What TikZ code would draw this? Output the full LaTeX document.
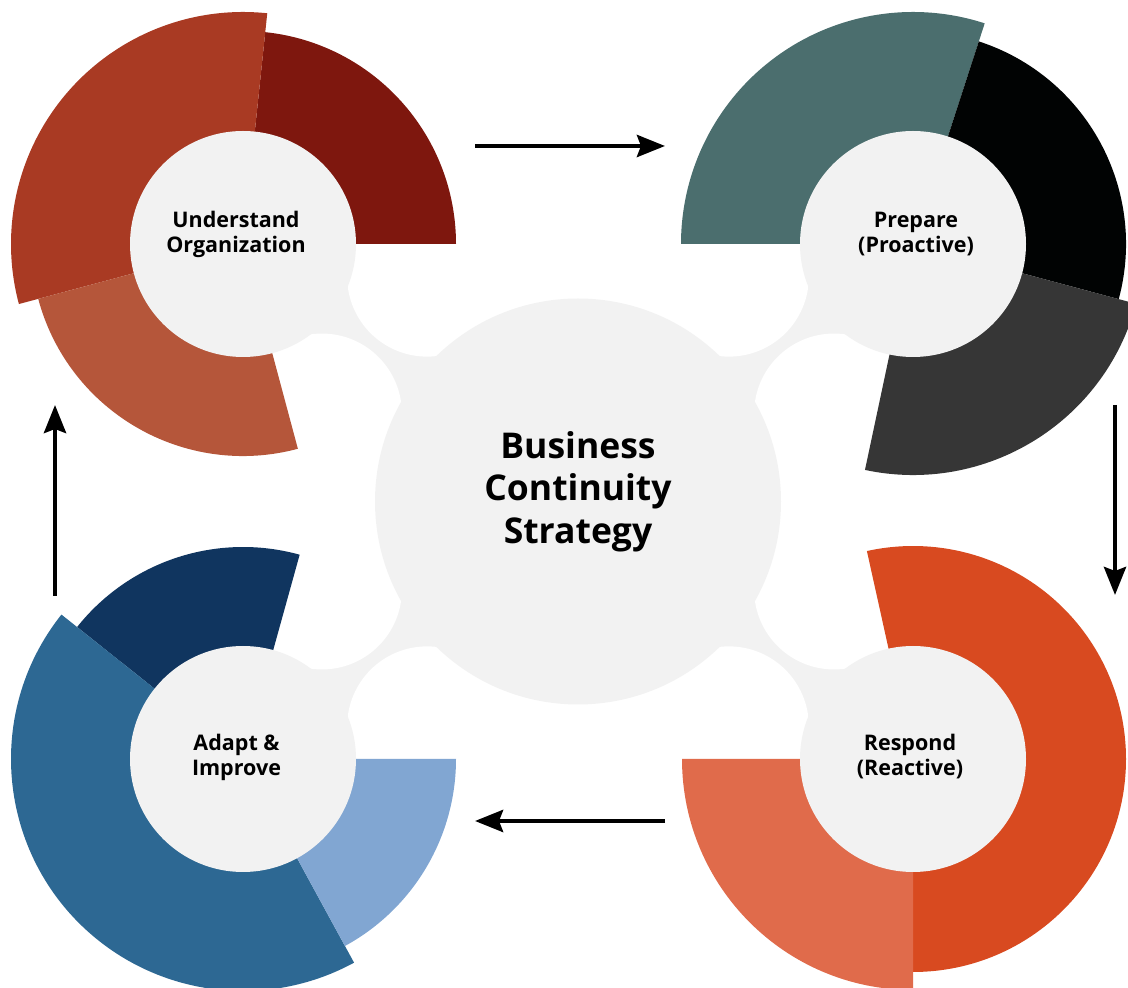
\documentclass[tikz,border=0pt]{standalone}
\usepackage{fontspec}
\setmainfont{Open Sans}
\usetikzlibrary{arrows.meta,calc}

\definecolor{hubgrey}{HTML}{F2F2F2}
\definecolor{rustdark}{HTML}{7E170E}
\definecolor{rust}{HTML}{A93A23}
\definecolor{rustlight}{HTML}{B5563A}
\definecolor{slate}{HTML}{4B6E6E}
\definecolor{ink}{HTML}{010303}
\definecolor{charcoal}{HTML}{363636}
\definecolor{flame}{HTML}{D84A20}
\definecolor{flamelight}{HTML}{E06B4B}
\definecolor{navy}{HTML}{10355F}
\definecolor{steel}{HTML}{2D6893}
\definecolor{sky}{HTML}{81A6D2}

% centre, colour, from, to, radius
\newcommand{\ringslice}[5]{%
  \fill[#2] (#1) -- ++(#3:#5pt) arc[start angle=#3, end angle=#4, radius=#5pt] -- cycle;}

\begin{document}
\begin{tikzpicture}[x=1pt, y=1pt,
  hub/.style={circle, fill=hubgrey, minimum size=226pt, inner sep=0pt},
  core/.style={circle, fill=hubgrey, minimum size=406pt, inner sep=0pt},
  tag/.style={align=center, font=\bfseries\fontsize{21.5}{25}\selectfont},
  bigtag/.style={align=center, font=\bfseries\fontsize{35.5}{42.5}\selectfont},
  flow/.style={line width=4.5pt, -{Stealth[length=28pt, width=22pt, inset=4pt]}}]
  \useasboundingbox (0,0) rectangle (1128,988);
  \coordinate (tl) at (243,744);
  \coordinate (tr) at (913,744);
  \coordinate (bl) at (243,229);
  \coordinate (br) at (913,229);
  \coordinate (mid) at (578,486.5);

  % necks between the hubs and the centre
  \foreach \c in {tl,tr,bl,br}{
    \coordinate (\c-u) at ($(\c)!187pt!27.5:(mid)$);
    \coordinate (\c-d) at ($(\c)!187pt!-27.5:(mid)$);
    \fill[hubgrey] (mid) -- (\c-u) -- (\c) -- (\c-d) -- cycle;
    \fill[white] (\c-u) circle[radius=80pt] (\c-d) circle[radius=80pt];
  }

  \ringslice{tl}{rustdark}{0}{84}{213}      % understand
  \ringslice{tl}{rust}{84}{195}{232}
  \ringslice{tl}{rustlight}{195}{285}{212}
  \ringslice{tr}{slate}{72}{180}{232}       % prepare
  \ringslice{tr}{ink}{-15}{72}{213}
  \ringslice{tr}{charcoal}{-102}{-15}{231}
  \ringslice{br}{flame}{-90}{102.5}{213}    % respond
  \ringslice{br}{flamelight}{180}{270}{231}
  \ringslice{bl}{navy}{74.5}{141.5}{212}    % adapt
  \ringslice{bl}{steel}{141.5}{298.6}{232}
  \ringslice{bl}{sky}{-61.4}{0}{213}

  \node[hub] (tl-hub) at (tl) {};
  \node[hub] (tr-hub) at (tr) {};
  \node[hub] (bl-hub) at (bl) {};
  \node[hub] (br-hub) at (br) {};
  \node[core] (mid-hub) at (mid) {};

  \node[tag] (tl-tag) at ($(tl)+(-7,10)$) {Understand\\Organization};
  \node[tag] (tr-tag) at ($(tr)+(3,10)$) {Prepare\\(Proactive)};
  \node[tag] (br-tag) at ($(br)+(-3,2)$) {Respond\\(Reactive)};
  \node[tag] (bl-tag) at ($(bl)+(-6.5,2)$) {Adapt \&\\Improve};
  \node[bigtag] (mid-tag) at ($(mid)+(0,10)$) {Business\\Continuity\\Strategy};

  % cycle arrows
  \coordinate (top-s) at (475,842);  \coordinate (top-e) at (665,842);
  \coordinate (rgt-s) at (1115,583); \coordinate (rgt-e) at (1115,393);
  \coordinate (bot-s) at (665,167);  \coordinate (bot-e) at (475,167);
  \coordinate (lft-s) at (55,392);   \coordinate (lft-e) at (55,583);
  \draw[flow] (top-s) -- (top-e);
  \draw[flow] (rgt-s) -- (rgt-e);
  \draw[flow] (bot-s) -- (bot-e);
  \draw[flow] (lft-s) -- (lft-e);
\end{tikzpicture}
\end{document}
